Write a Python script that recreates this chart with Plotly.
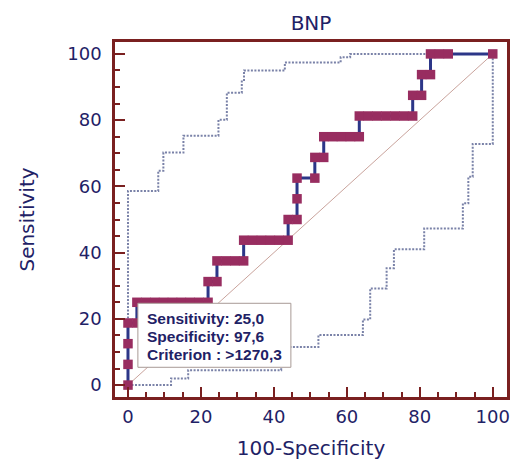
import plotly.graph_objects as go

# ROC curve points (100-Specificity, Sensitivity)
roc_fpr = [0, 0, 0, 0, 2.44,
           2.44, 4.88, 7.32, 9.76, 12.20, 14.63, 17.07, 19.51, 21.95,
           21.95, 24.39,
           24.39, 26.83, 29.27, 31.71,
           31.71, 34.15, 36.59, 39.02, 41.46, 43.90,
           43.90, 46.34,
           46.34, 46.34, 51.22,
           51.22, 53.66,
           53.66, 56.10, 58.54, 60.98, 63.41,
           63.41, 65.85, 68.29, 70.73, 73.17, 75.61, 78.05,
           78.05, 80.49,
           80.49, 82.93,
           82.93, 85.37, 87.80, 100]
roc_tpr = [0, 6.25, 12.5, 18.75, 18.75,
           25, 25, 25, 25, 25, 25, 25, 25, 25,
           31.25, 31.25,
           37.5, 37.5, 37.5, 37.5,
           43.75, 43.75, 43.75, 43.75, 43.75, 43.75,
           50, 50,
           56.25, 62.5, 62.5,
           68.75, 68.75,
           75, 75, 75, 75, 75,
           81.25, 81.25, 81.25, 81.25, 81.25, 81.25, 81.25,
           87.5, 87.5,
           93.75, 93.75,
           100, 100, 100, 100]

# 95% confidence bounds (step corners)
upper_x = [0, 0, 8.3, 9.7, 15.2, 24.8, 27.1, 31.2, 31.8, 43.0, 58.3, 60.9, 100]
upper_y = [0, 58.6, 64.7, 70.2, 75.3, 80.1, 88.3, 92.1, 95.0, 97.4, 99.0, 100, 100]
lower_x = [0, 11.8, 16.5, 42.0, 52.2, 64.4, 66.4, 70.9, 72.9, 81.2, 91.8, 93.3, 94.5, 100]
lower_y = [0, 2.0, 4.5, 11.5, 15.1, 19.8, 29.2, 35.3, 41.0, 47.3, 54.9, 62.9, 72.8, 100]

diag = [0, 100]
criterion_text = ["Sensitivity: 25,0", "Specificity: 97,6", "Criterion : >1270,3"]
crit_x, crit_y = 2.44, 25

NAVY = "#1f2266"
FRAME = "#7a2020"
BAND = "#7a82a8"

fig = go.Figure()
fig.add_trace(go.Scatter(x=diag, y=diag, mode="lines",
                         line=dict(color="#c9a39c", width=1), hoverinfo="skip"))
fig.add_trace(go.Scatter(x=upper_x, y=upper_y, mode="lines", line_shape="hv",
                         line=dict(color=BAND, width=2, dash="2px,1.5px")))
fig.add_trace(go.Scatter(x=lower_x, y=lower_y, mode="lines", line_shape="hv",
                         line=dict(color=BAND, width=2, dash="2px,1.5px")))
fig.add_trace(go.Scatter(x=roc_fpr, y=roc_tpr, mode="lines+markers",
                         line=dict(color="#2c3688", width=3),
                         marker=dict(symbol="square", size=9.5, color="#982d60",
                                     line=dict(width=0))))

# criterion box anchored at the criterion point (pixel offsets)
fig.add_shape(type="rect", xref="x", yref="y", xsizemode="pixel", ysizemode="pixel",
              xanchor=crit_x, yanchor=crit_y, x0=1, x1=154, y0=-1, y1=-65,
              fillcolor="white", line=dict(color="#a89a96", width=1), layer="above")
for i, line in enumerate(criterion_text):
    fig.add_annotation(x=crit_x, y=crit_y, xref="x", yref="y",
                       xanchor="left", yanchor="middle", xshift=8, yshift=-16 - 18.3 * i,
                       text=line, showarrow=False, align="left",
                       font=dict(family="Liberation Sans, Arial", size=15.5, color=NAVY,
                                 weight="bold"))

axis_common = dict(
    showline=True, linecolor=FRAME, linewidth=2.5, mirror=True,
    showgrid=False, zeroline=False, automargin=False,
    ticks="inside", ticklen=10, tickwidth=2, tickcolor=FRAME,
    tick0=0, dtick=20,
    minor=dict(ticks="inside", ticklen=5, tickwidth=2, tickcolor=FRAME, dtick=5, showgrid=False),
    tickfont=dict(family="DejaVu Sans", size=18, color=NAVY),
)

fig.update_xaxes(range=[-3.56, 103.9], ticklabelstandoff=2,
                 title=dict(text="100-Specificity",
                            font=dict(family="DejaVu Sans", size=20, color=NAVY), standoff=15),
                 **axis_common)
fig.update_yaxes(range=[-3.6, 103.6], ticklabelstandoff=7,
                 title=dict(text="Sensitivity",
                            font=dict(family="DejaVu Sans", size=20, color=NAVY), standoff=28),
                 **axis_common)

fig.update_layout(
    width=515, height=464,
    margin=dict(l=115, r=8, t=42, b=67),
    paper_bgcolor="white", plot_bgcolor="white",
    showlegend=False,
    title=dict(text="BNP", x=0.5, xref="paper", y=1 - 23 / 464, yanchor="middle",
               font=dict(family="DejaVu Sans", size=20, color=NAVY)),
)

fig.write_html("out.html", config={"displayModeBar": False},
               post_script="document.body.style.margin='0';document.body.style.overflow='hidden';")
